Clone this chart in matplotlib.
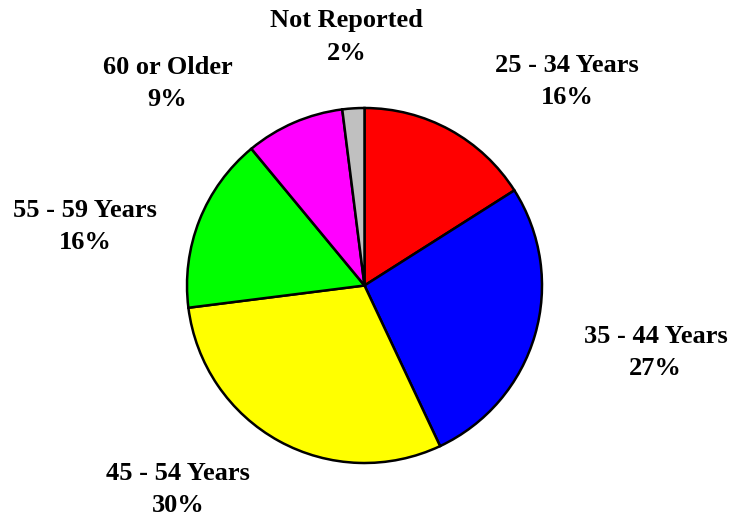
import matplotlib
matplotlib.use("Agg")
import matplotlib.pyplot as plt

# Age groups, clockwise from 12 o'clock
labels = ['25 - 34 Years', '35 - 44 Years', '45 - 54 Years',
          '55 - 59 Years', '60 or Older', 'Not Reported']
shares = [16, 27, 30, 16, 9, 2]
colors = ['#ff0000', '#0000ff', '#ffff00', '#00ff00', '#ff00ff', '#c0c0c0']

# where each label sits (axes data units, pie radius = 1)
label_pos = [(1.14, 1.15), (1.64, -0.38), (-1.05, -1.15),
             (-1.575, 0.33), (-1.11, 1.14), (-0.10, 1.40)]

fig = plt.figure(figsize=(7.3, 5.18), dpi=100)
ax = fig.add_axes([187 / 730, 55 / 518, 355 / 730, 355 / 518])

ax.pie(shares, colors=colors, startangle=90, counterclock=False,
       wedgeprops=dict(edgecolor='black', linewidth=1.8))
ax.set_xlim(-1, 1)
ax.set_ylim(-1, 1)
ax.set_aspect('equal')

for lab, val, (x, y) in zip(labels, shares, label_pos):
    ax.text(x, y, f'{lab}\n{val}%', ha='center', va='center',
            family='Liberation Serif', fontweight='bold', fontsize=19,
            linespacing=1.5, clip_on=False)

fig.savefig('out.png', dpi=100)
